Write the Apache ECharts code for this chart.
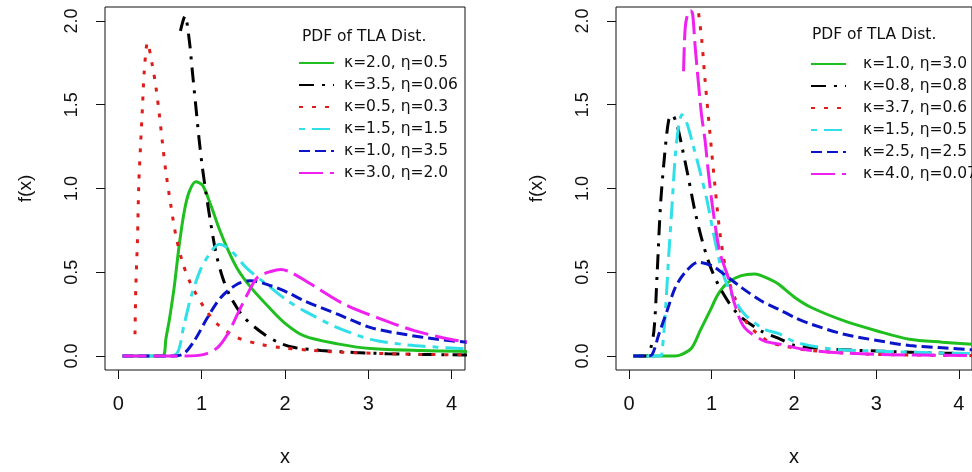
<!DOCTYPE html>
<html>
<head>
<meta charset="utf-8">
<script src="https://cdn.jsdelivr.net/npm/echarts@6/dist/echarts.min.js"></script>
<style>html,body{margin:0;padding:0;background:#fff}#c{width:972px;height:472px}</style>
</head>
<body>
<div id="c"></div>
<script>
// ---------- tick labels ----------
var xTicks = [0, 1, 2, 3, 4];
var yTicks = [0, 0.5, 1, 1.5, 2];
var legendTitle = 'PDF of TLA Dist.';

// ---------- left panel ----------
var leftNames = ['κ=2.0, η=0.5', 'κ=3.5, η=0.06', 'κ=0.5, η=0.3', 'κ=1.5, η=1.5', 'κ=1.0, η=3.5', 'κ=3.0, η=2.0'];

var L1x = [0.05, 0.3, 0.5, 0.55, 0.57, 0.61, 0.67, 0.73, 0.79, 0.85, 0.93, 1.01, 1.11, 1.21, 1.31, 1.43, 1.59, 1.79, 1.99, 2.23, 2.63, 3.03, 3.63, 4.2];
var L1y = [0, 0, 0, 0.01, 0.10, 0.21, 0.41, 0.66, 0.86, 0.98, 1.04, 1.02, 0.90, 0.76, 0.64, 0.52, 0.41, 0.30, 0.20, 0.12, 0.073, 0.045, 0.033, 0.028];

var L2x = [0.745, 0.80, 0.85, 0.89, 0.93, 0.97, 1.01, 1.05, 1.10, 1.17, 1.25, 1.35, 1.51, 1.75, 1.95, 2.13, 2.43, 2.83, 3.23, 3.63, 4.2];
var L2y = [1.94, 2.03, 1.89, 1.69, 1.49, 1.29, 1.12, 0.98, 0.82, 0.62, 0.47, 0.35, 0.23, 0.13, 0.075, 0.05, 0.034, 0.022, 0.014, 0.01, 0.007];

var L3x = [0.20, 0.21, 0.23, 0.245, 0.265, 0.29, 0.31, 0.35, 0.41, 0.45, 0.49, 0.53, 0.57, 0.63, 0.69, 0.77, 0.87, 1.03, 1.19, 1.43, 1.71, 1.95, 2.3, 2.63, 3.1, 3.63, 4.2];
var L3y = [0.13, 0.41, 0.70, 1.02, 1.24, 1.49, 1.69, 1.87, 1.73, 1.61, 1.45, 1.27, 1.10, 0.90, 0.72, 0.56, 0.43, 0.29, 0.19, 0.11, 0.07, 0.05, 0.035, 0.024, 0.016, 0.01, 0.007];

var L4x = [0.05, 0.5, 0.69, 0.79, 0.87, 0.99, 1.11, 1.21, 1.35, 1.55, 1.80, 2.03, 2.23, 2.63, 3.03, 3.43, 3.83, 4.2];
var L4y = [0, 0, 0.01, 0.19, 0.35, 0.52, 0.62, 0.667, 0.63, 0.52, 0.42, 0.33, 0.27, 0.17, 0.10, 0.069, 0.053, 0.042];

var L5x = [0.05, 0.6, 0.77, 0.91, 1.07, 1.23, 1.43, 1.59, 1.83, 2.03, 2.23, 2.63, 3.03, 3.43, 3.83, 4.2];
var L5y = [0, 0, 0.01, 0.09, 0.23, 0.35, 0.43, 0.45, 0.42, 0.38, 0.33, 0.25, 0.17, 0.13, 0.10, 0.082];

var L6x = [0.05, 0.8, 1.03, 1.19, 1.31, 1.43, 1.55, 1.67, 1.83, 1.95, 2.07, 2.31, 2.71, 3.13, 3.55, 4.01, 4.2];
var L6y = [0, 0, 0.01, 0.05, 0.13, 0.25, 0.37, 0.47, 0.505, 0.517, 0.50, 0.43, 0.31, 0.225, 0.152, 0.097, 0.085];

// ---------- right panel ----------
var rightNames = ['κ=1.0, η=3.0', 'κ=0.8, η=0.8', 'κ=3.7, η=0.6', 'κ=1.5, η=0.5', 'κ=2.5, η=2.5', 'κ=4.0, η=0.07'];

var R1x = [0.05, 0.55, 0.64, 0.76, 0.86, 0.98, 1.08, 1.20, 1.36, 1.52, 1.72, 1.81, 2.01, 2.21, 2.61, 3.01, 3.40, 3.80, 4.2];
var R1y = [0, 0, 0.01, 0.05, 0.15, 0.27, 0.37, 0.44, 0.48, 0.49, 0.455, 0.43, 0.35, 0.29, 0.21, 0.15, 0.10, 0.083, 0.07];

var R2x = [0.05, 0.2, 0.24, 0.30, 0.34, 0.38, 0.43, 0.48, 0.52, 0.58, 0.64, 0.72, 0.80, 0.88, 0.98, 1.12, 1.32, 1.60, 1.84, 2.01, 2.41, 3.01, 3.80, 4.2];
var R2y = [0, 0, 0.01, 0.15, 0.50, 0.90, 1.20, 1.41, 1.44, 1.38, 1.25, 1.06, 0.86, 0.70, 0.54, 0.39, 0.25, 0.15, 0.10, 0.063, 0.043, 0.03, 0.018, 0.015];

var R3x = [0.82, 0.835, 0.88, 0.92, 0.98, 1.04, 1.10, 1.18, 1.28, 1.44, 1.68, 1.85, 2.21, 3.01, 4.2];
var R3y = [2.2, 2.08, 1.89, 1.65, 1.33, 1.02, 0.74, 0.50, 0.35, 0.19, 0.09, 0.063, 0.033, 0.01, 0.004];

var R4x = [0.05, 0.38, 0.40, 0.44, 0.48, 0.52, 0.56, 0.60, 0.64, 0.70, 0.78, 0.86, 0.94, 1.02, 1.12, 1.24, 1.40, 1.64, 1.81, 2.01, 2.41, 2.81, 3.80, 4.2];
var R4y = [0, 0, 0.03, 0.27, 0.60, 0.90, 1.20, 1.37, 1.44, 1.39, 1.25, 1.10, 0.94, 0.74, 0.52, 0.37, 0.25, 0.16, 0.135, 0.085, 0.045, 0.033, 0.018, 0.015];

var R5x = [0.05, 0.22, 0.28, 0.36, 0.46, 0.56, 0.68, 0.84, 1.00, 1.16, 1.36, 1.60, 1.81, 2.01, 2.21, 2.61, 3.01, 3.40, 3.80, 4.2];
var R5y = [0, 0, 0.01, 0.13, 0.27, 0.41, 0.50, 0.56, 0.54, 0.485, 0.41, 0.33, 0.28, 0.23, 0.19, 0.13, 0.093, 0.063, 0.05, 0.036];

var R6x = [0.66, 0.68, 0.715, 0.745, 0.77, 0.80, 0.84, 0.88, 0.92, 0.96, 1.02, 1.10, 1.20, 1.28, 1.40, 1.64, 1.81, 2.21, 3.01, 4.2];
var R6y = [1.70, 1.96, 2.05, 2.06, 2.04, 1.85, 1.63, 1.43, 1.29, 1.10, 0.86, 0.62, 0.47, 0.31, 0.17, 0.09, 0.073, 0.033, 0.01, 0.004];

// ---------- styles ----------
var colors = ['#1fbf1f', '#000000', '#dd1c1c', '#30e0e8', '#0a14c8', '#f020f0'];
var dashes = ['solid', [15, 8, 3, 8], [4, 9], [6, 7, 18, 7], [11, 5], [24, 7]];

function zip(xs, ys) { return xs.map(function (x, i) { return [x, ys[i]]; }); }

var leftData = [zip(L1x, L1y), zip(L2x, L2y), zip(L3x, L3y), zip(L4x, L4y), zip(L5x, L5y), zip(L6x, L6y)];
var rightData = [zip(R1x, R1y), zip(R2x, R2y), zip(R3x, R3y), zip(R4x, R4y), zip(R5x, R5y), zip(R6x, R6y)];

var series = [];
function addSeries(names, datas, idx) {
  names.forEach(function (n, i) {
    series.push({
      type: 'line', name: n, xAxisIndex: idx, yAxisIndex: idx,
      data: datas[i], showSymbol: false, symbol: 'none', smooth: 0.3,
      clip: true,
      lineStyle: { color: colors[i], width: 3, type: dashes[i], cap: 'butt' },
      itemStyle: { color: colors[i] }
    });
  });
}
addSeries(leftNames, leftData, 0);
addSeries(rightNames, rightData, 1);

var txt = '#111';
var font = 'Liberation Sans, Arial, sans-serif';
var lfont = 'DejaVu Sans, sans-serif';

function xAx(idx) {
  return {
    type: 'value', gridIndex: idx, min: -0.16, max: 4.16,
    name: 'x', nameLocation: 'middle', nameGap: 77,
    nameTextStyle: { fontSize: 20, color: txt, fontFamily: font },
    axisLine: { show: false, onZero: false },
    axisTick: { show: true, inside: false, length: 9, customValues: xTicks, lineStyle: { color: txt, width: 1 } },
    axisLabel: { customValues: xTicks, fontSize: 20, color: txt, margin: 24, fontFamily: font },
    splitLine: { show: false }
  };
}
function yAx(idx) {
  return {
    type: 'value', gridIndex: idx, min: -0.083, max: 2.083,
    name: 'f(x)', nameLocation: 'middle', nameGap: 70, nameRotate: 90,
    nameTextStyle: { fontSize: 19, color: txt, fontFamily: font },
    axisLine: { show: false, onZero: false },
    axisTick: { show: true, inside: false, length: 9, customValues: yTicks, lineStyle: { color: txt, width: 1 } },
    axisLabel: { customValues: yTicks, rotate: 90, fontSize: 18, color: txt, margin: 24, fontFamily: font,
      formatter: function (v) { return v.toFixed(1); } },
    splitLine: { show: false }
  };
}

function legendFor(names, left, top, pad) {
  return {
    data: names, orient: 'vertical', left: left, top: top, padding: 0,
    itemWidth: 35, itemHeight: 16, itemGap: 6, selectedMode: false,
    itemStyle: { opacity: 0 },
    textStyle: { fontSize: 15.5, lineHeight: 16, color: txt, fontFamily: lfont, padding: [0, 0, 0, pad] }
  };
}

var option = {
  animation: false,
  backgroundColor: '#fff',
  title: [
    { text: legendTitle, left: 302, top: 29, padding: 0, textStyle: { fontSize: 15.5, fontWeight: 'normal', color: txt, fontFamily: lfont } },
    { text: legendTitle, left: 812, top: 27, padding: 0, textStyle: { fontSize: 15.5, fontWeight: 'normal', color: txt, fontFamily: lfont } }
  ],
  legend: [legendFor(leftNames, 298, 55, 5), legendFor(rightNames, 810, 56, 12)],
  grid: [
    { left: 105, top: 7, width: 360, height: 366, show: true, borderColor: txt, borderWidth: 1, backgroundColor: 'transparent', containLabel: false },
    { left: 616, top: 7, width: 360, height: 366, show: true, borderColor: txt, borderWidth: 1, backgroundColor: 'transparent', containLabel: false }
  ],
  xAxis: [xAx(0), xAx(1)],
  yAxis: [yAx(0), yAx(1)],
  series: series
};

var chart = echarts.init(document.getElementById('c'), null, { renderer: 'canvas' });
chart.setOption(option);
</script>
</body>
</html>
